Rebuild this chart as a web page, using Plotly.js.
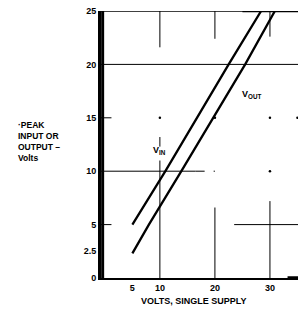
<!DOCTYPE html>
<html>
<head>
<meta charset="utf-8">
<script src="https://cdn.plot.ly/plotly-3.0.1.min.js"></script>
<style>html,body{margin:0;padding:0;background:#fff;}#chart{width:298px;height:310px;}</style>
</head>
<body>
<div id="chart"></div>
<script>
// Supply voltage (x) and peak voltage (y)
const vinSupply  = [5, 11, 22.5, 28.4];
const vinPeak    = [5, 10, 20, 25];
const voutSupply = [5, 8, 13.9, 25.5, 30.9];
const voutPeak   = [2.3, 5, 10, 20, 25];
const xTickVals  = [5, 10, 20, 30];
const xTickText  = ['5', '10', '20', '30'];
const yTickVals  = [0, 2.5, 5, 10, 15, 20, 25];
const yTickText  = ['0', '2.5', '5', '10', '15', '20', '25'];

const X0 = -0.7, X1 = 35.1;
const fam = 'Liberation Sans, Arial, sans-serif';
const font = {family: fam, size: 9, color: '#000', weight: 'bold'};

// partial grid of the scanned chart: [x0, y0, x1, y1, width, dash]
const grid = [
  [X0, 20, X1, 20, 1, 'solid'],
  [X0, 10, 16.5, 10, 1, 'solid'],
  [16.5, 10, 20, 10, 1, 'dash'],
  [23.5, 5, X1, 5, 1, 'solid'],
  [X0, 15, 1.2, 15, 1, 'solid'],
  [X0, 5, 1.2, 5, 1, 'solid'],
  [10, 0, 10, 11, 1, 'solid'],
  [10, 12.3, 10, 13.2, 1, 'solid'],
  [20, 0, 20, 6.6, 1, 'solid'],
  [30, 0, 30, 7.2, 1, 'solid'],
  [10, 25, 10, 21.6, 1, 'solid'],
  [20, 25, 20, 22.4, 1, 'solid'],
  [30, 25, 30, 22.6, 1, 'solid'],
  [X0, 25, X1, 25, 1.5, 'solid'],
  [25, 25, X1, 25, 2.5, 'solid'],
  [33.2, 0, X1, 0, 3.5, 'solid'],
  [-0.4, 0, -0.4, 25, 3, 'solid']
];
const shapes = grid.map(g => ({
  type: 'line', xref: 'x', yref: 'y', x0: g[0], y0: g[1], x1: g[2], y1: g[3],
  line: {color: '#000', width: g[4], dash: g[5]}, layer: 'above'
}));

const traces = [
  {x: vinSupply, y: vinPeak, mode: 'lines', line: {color: '#000', width: 2.3}, hoverinfo: 'skip', cliponaxis: false},
  {x: voutSupply, y: voutPeak, mode: 'lines', line: {color: '#000', width: 2.3}, hoverinfo: 'skip', cliponaxis: false},
  {x: [10, 20, 30, 35, 30], y: [15, 15, 15, 15, 10], mode: 'markers',
   marker: {color: '#000', size: 2.5}, hoverinfo: 'skip'}
];

const layout = {
  width: 298, height: 310,
  margin: {l: 101, r: 0, t: 11, b: 32},
  paper_bgcolor: '#fff', plot_bgcolor: '#fff',
  showlegend: false,
  font: font,
  xaxis: {range: [X0, X1], tickvals: xTickVals, ticktext: xTickText,
          showgrid: false, zeroline: false, showline: true, linecolor: '#000', linewidth: 2,
          ticks: '', tickfont: font, fixedrange: true},
  yaxis: {range: [0, 25], tickvals: yTickVals, ticktext: yTickText,
          showgrid: false, zeroline: false, showline: true, linecolor: '#000', linewidth: 3,
          ticks: '', tickfont: font, fixedrange: true},
  shapes: shapes,
  annotations: [
    {text: 'V<sub>IN</sub>', x: 10, y: 11.9, xref: 'x', yref: 'y', showarrow: false, font: font},
    {text: 'V<sub>OUT</sub>', x: 26.6, y: 17.2, xref: 'x', yref: 'y', showarrow: false, font: font},
    {text: 'VOLTS, SINGLE SUPPLY', xref: 'paper', yref: 'paper', x: 0.47, y: -0.085,
     xanchor: 'center', yanchor: 'middle', showarrow: false, font: font},
    {text: '·PEAK<br>INPUT OR<br>OUTPUT –<br>Volts', xref: 'paper', yref: 'paper',
     x: -0.43, y: 0.51, xanchor: 'left', yanchor: 'middle', align: 'left',
     showarrow: false, font: {family: fam, size: 8.5, color: '#000', weight: 'bold'}}
  ]
};

Plotly.newPlot('chart', traces, layout, {displayModeBar: false, staticPlot: true});
</script>
</body>
</html>
